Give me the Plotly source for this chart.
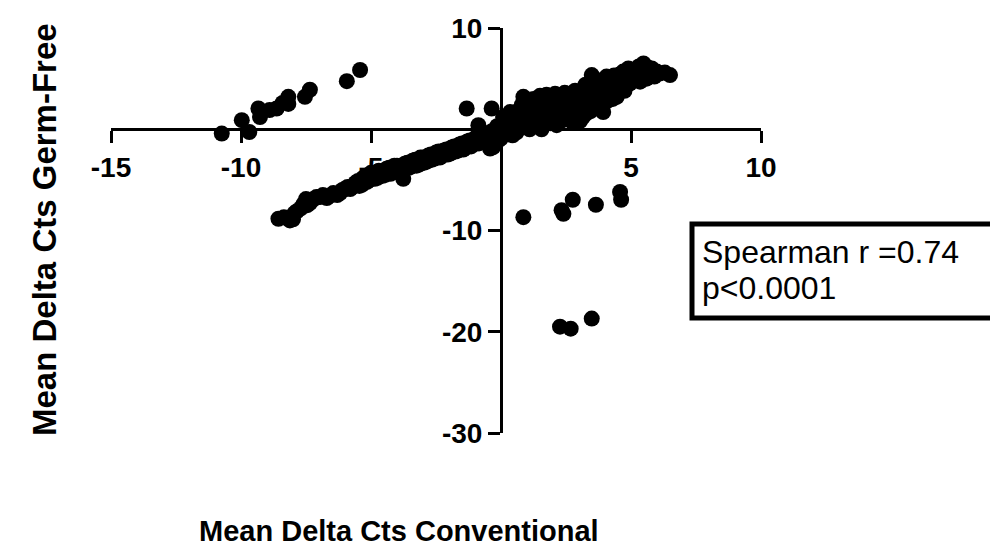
import plotly.graph_objects as go

# Upper-left outlier group (and two points just left of the y axis)
ul_x = [-10.74, -9.97, -9.68, -9.33, -9.27, -8.9, -8.63, -8.4, -8.18, -8.18, -7.54, -7.35, -5.93, -5.42,
        -1.32, -0.36]
ul_y = [-0.43, 0.9, -0.27, 2.05, 1.2, 1.9, 2.05, 2.6, 3.2, 2.5, 3.2, 3.9, 4.75, 5.85,
        2.05, 2.05]

# Main diagonal band, negative side
lb_x = [-8.56, -8.35, -8.12, -8.0, -7.95, -7.85, -7.7, -7.6, -7.5, -7.45, -7.35, -7.2, -7.1, -6.96,
        -6.85, -6.7, -6.6, -6.45, -6.3, -6.19, -6.1, -6.0, -5.9, -5.8, -5.7, -5.6, -5.5, -5.45, -5.35,
        -5.3, -5.2, -5.15, -5.05, -5.0, -4.9, -4.85, -4.75, -4.7, -4.6, -4.55, -4.45, -4.4, -4.3, -4.25,
        -4.15, -4.1, -4.0, -3.95, -3.85, -3.76, -3.7, -3.6, -3.55, -3.45, -3.4, -3.3, -3.25, -3.15, -3.1,
        -3.0, -2.95, -2.85, -2.8, -2.7, -2.65, -2.55, -2.5, -2.4, -2.35, -2.25, -2.2, -2.1, -2.05, -1.95,
        -1.9, -1.8, -1.75, -1.65, -1.6, -1.5, -1.45, -1.35, -1.3, -1.2, -1.15, -1.05, -1.0, -0.95, -0.87,
        -0.85, -0.8, -0.7, -0.65, -0.55, -0.5, -0.42, -0.4, -0.35, -0.3, -0.25, -0.2, -0.15, -0.1, -0.1,
        -0.05, 0.0]
lb_y = [-8.84, -8.7, -9.0, -8.9, -8.3, -8.1, -7.8, -7.4, -6.9, -7.5, -7.3, -6.9, -6.7, -6.7,
        -6.5, -6.8, -6.6, -6.3, -6.5, -6.3, -6.0, -5.9, -5.7, -5.9, -5.7, -5.3, -5.1, -5.6, -5.5,
        -4.8, -4.7, -5.2, -5.0, -4.3, -4.4, -4.9, -4.8, -4.1, -4.2, -4.6, -4.5, -3.9, -3.8, -4.4,
        -4.2, -3.6, -3.6, -4.1, -4.0, -4.9, -3.4, -3.3, -3.8, -3.7, -3.1, -3.0, -3.6, -3.5, -2.8,
        -2.8, -3.3, -3.2, -2.6, -2.5, -3.0, -2.9, -2.3, -2.2, -2.8, -2.6, -2.1, -2.0, -2.5, -2.4,
        -1.8, -1.7, -2.2, -2.1, -1.5, -1.4, -2.0, -1.8, -1.2, -1.1, -1.7, -1.5, -0.9, -0.8, 0.4,
        -1.4, -1.2, -0.6, -0.5, -1.1, -0.9, -1.9, -0.3, -0.2, -1.75, -0.8, -1.3, 0.3, 0.1, -1.1,
        -0.5, -0.9]

# Main diagonal band, positive side
rb_x = [0.08, 0.1, 0.15, 0.2, 0.25, 0.3, 0.35, 0.4, 0.45, 0.5, 0.55, 0.6, 0.65, 0.7, 0.75, 0.8, 0.86,
        0.9, 0.95, 1.0, 1.05, 1.1, 1.15, 1.2, 1.25, 1.3, 1.35, 1.4, 1.5, 1.5, 1.56, 1.6, 1.65, 1.7, 1.75,
        1.8, 1.85, 1.9, 1.95, 2.0, 2.05, 2.08, 2.14, 2.2, 2.25, 2.3, 2.35, 2.4, 2.45, 2.5, 2.55, 2.6,
        2.65, 2.7, 2.75, 2.8, 2.85, 2.9, 2.95, 3.0, 3.04, 3.1, 3.15, 3.2, 3.25, 3.3, 3.3, 3.4, 3.45,
        3.49, 3.5, 3.55, 3.6, 3.6, 3.65, 3.7, 3.75, 3.8, 3.85, 3.9, 3.93, 4.0, 4.06, 4.1, 4.15, 4.2,
        4.25, 4.3, 4.35, 4.4, 4.45, 4.5, 4.55, 4.6, 4.65, 4.7, 4.75, 4.8, 4.85, 4.9, 4.95, 5.0, 5.09,
        5.1, 5.2, 5.25, 5.3, 5.35, 5.45, 5.48, 5.6, 5.65, 5.7, 5.8, 5.9, 5.99, 6.1, 6.3, 6.5]
rb_y = [1.2, -0.2, 0.9, 0.5, 0.0, -0.5, 1.7, 1.3, -0.6, 0.2, 0.8, -0.3, 1.8, 1.0, 0.3, 2.4, 3.2,
        0.5, 1.2, 1.6, 2.6, 0.0, 0.6, 2.2, 3.0, 1.0, 1.6, 0.3, 3.3, 2.0, 0.0, 2.8, 0.8, 1.2, 3.4,
        2.6, 1.6, 0.6, 2.2, 3.0, 1.2, 3.5, 0.4, 1.8, 3.2, 0.8, 2.2, 2.6, 3.6, 1.0, 1.6, 2.8,
        3.5, 2.0, 0.7, 3.0, 3.8, 1.4, 2.4, 3.4, 0.8, 2.4, 1.2, 3.4, 4.4, 1.6, 2.8, 4.2, 1.8,
        5.35, 2.6, 3.8, 3.3, 5.0, 2.2, 4.5, 3.0, 2.2, 4.8, 3.9, 1.7, 3.6, 5.2, 2.8, 4.9, 4.4,
        3.6, 3.0, 5.3, 4.1, 3.2, 4.8, 5.4, 3.9, 4.4, 5.7, 3.8, 4.4, 5.0, 6.0, 4.5, 5.3, 4.85,
        5.6, 5.8, 5.1, 6.2, 4.7, 5.6, 6.5, 5.0, 6.1, 5.4, 6.0, 5.2, 5.7, 5.5, 5.6, 5.35]

# Lower-right outliers
lr_x = [0.86, 2.33, 2.4, 2.76, 3.65, 4.58, 4.62, 2.27, 2.68, 3.49]
lr_y = [-8.68, -8.0, -8.35, -6.96, -7.46, -6.2, -6.96, -19.5, -19.7, -18.7]

x_all = ul_x + lb_x + rb_x + lr_x
y_all = ul_y + lb_y + rb_y + lr_y

x_ticks = [-15, -10, -5, 5, 10]
x_tick_labels = ["-15", "-10", "-5", "5", "10"]
y_ticks = [10, -10, -20, -30]
y_tick_labels = ["10", "-10", "-20", "-30"]

x_title = "Mean Delta Cts Conventional"
y_title = "Mean Delta Cts Germ-Free"
stat_line1 = "Spearman r =0.74"
stat_line2 = "p<0.0001"

FONT = "Liberation Sans, Arial, sans-serif"

fig = go.Figure()
fig.add_trace(go.Scatter(
    x=x_all, y=y_all, mode="markers",
    marker=dict(size=16, color="black", line=dict(width=0)),
    cliponaxis=False, showlegend=False, hoverinfo="skip",
))

L, R, T, B = 111, 229, 28, 115
W, H = 990, 548
pw, ph = W - L - R, H - T - B

def px_x(px):
    return (px - L) / pw

def px_y(py):
    return (H - B - py) / ph

axis_common = dict(
    showline=True, linewidth=3, linecolor="black",
    ticks="outside", ticklen=12, tickwidth=3, tickcolor="black",
    showgrid=False, zeroline=False, anchor="free", layer="below traces",
    tickfont=dict(family=FONT, size=28, color="black", weight="bold"),
)

fig.update_layout(
    width=W, height=H,
    margin=dict(l=L, r=R, t=T, b=B),
    paper_bgcolor="white", plot_bgcolor="white",
    font=dict(family=FONT, color="black"),
    xaxis=dict(range=[-15, 10], tickvals=x_ticks, ticktext=x_tick_labels, position=0.75,
               **axis_common),
    yaxis=dict(range=[-30, 10], tickvals=y_ticks, ticktext=y_tick_labels, position=0.6,
               **axis_common),
)

fig.add_annotation(
    text=x_title, xref="paper", yref="paper", x=px_x(399), y=px_y(531),
    xanchor="center", yanchor="middle", showarrow=False,
    font=dict(family=FONT, size=29, color="black", weight="bold"),
)
fig.add_annotation(
    text=y_title, xref="paper", yref="paper", x=px_x(44), y=px_y(230),
    xanchor="center", yanchor="middle", showarrow=False, textangle=-90,
    font=dict(family=FONT, size=33, color="black", weight="bold"),
)

fig.add_shape(
    type="rect", xref="paper", yref="paper",
    x0=px_x(692), x1=px_x(1010), y0=px_y(318), y1=px_y(224),
    line=dict(color="black", width=5), fillcolor="white", layer="above",
)
fig.add_annotation(
    text=stat_line1, xref="paper", yref="paper", x=px_x(700), y=px_y(252),
    xanchor="left", yanchor="middle", showarrow=False,
    font=dict(family=FONT, size=32, color="black"),
)
fig.add_annotation(
    text=stat_line2, xref="paper", yref="paper", x=px_x(700), y=px_y(288),
    xanchor="left", yanchor="middle", showarrow=False,
    font=dict(family=FONT, size=32, color="black"),
)

fig.write_html("out.html", config={"displayModeBar": False},
               post_script="document.body.style.margin='0';document.body.style.padding='0';")
